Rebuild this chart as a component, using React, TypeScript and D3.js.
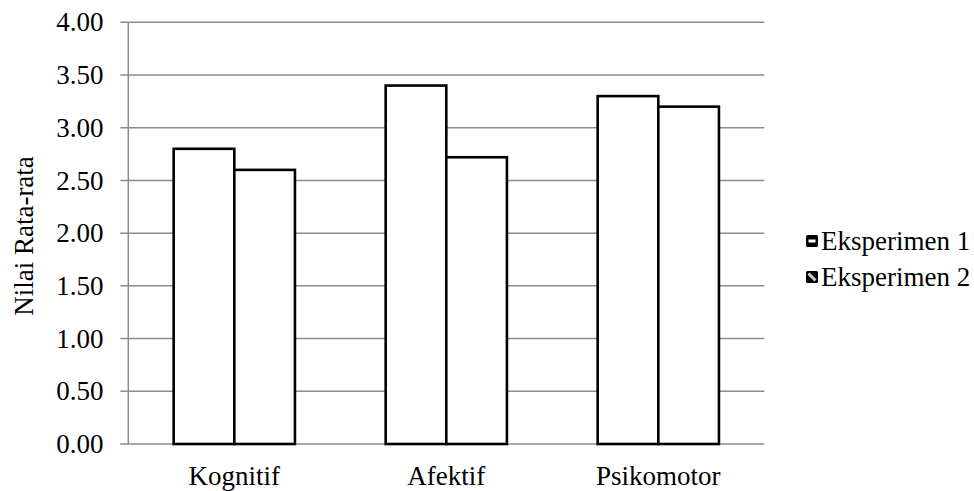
import React from "react";
import * as d3 from "d3";

const categories = ["Kognitif", "Afektif", "Psikomotor"];
const seriesNames = ["Eksperimen 1", "Eksperimen 2"];
const eksperimen1 = [2.8, 3.4, 3.3];
const eksperimen2 = [2.6, 2.72, 3.2];
const yTicks = [0, 0.5, 1, 1.5, 2, 2.5, 3, 3.5, 4];

const W = 974;
const H = 491;
const left = 128.3;
const right = 764.3;
const top = 22.3;
const bottom = 444;
const FS = 27;
const textStyle: React.CSSProperties = { fontFamily: '"Liberation Serif", "Times New Roman", serif', fontSize: FS };

export default function App() {
  const x = d3
    .scaleBand<string>()
    .domain(categories)
    .range([left, right])
    .paddingInner(0.428)
    .paddingOuter(0.214);
  const xs = d3.scaleBand<string>().domain(seriesNames).range([0, x.bandwidth()]).padding(0);
  const y = d3.scaleLinear().domain([0, 4]).range([bottom, top]);
  const data = [eksperimen1, eksperimen2];
  const grid = "#8c8c8c";

  return (
    <svg width={W} height={H} style={{ position: "absolute", left: 0, top: 0, display: "block" }}>
      <rect x={0} y={0} width={W} height={H} fill="#fff" />
      {yTicks.map((t) => (
        <g key={t}>
          <line x1={left - 8} x2={right} y1={y(t)} y2={y(t)} stroke={grid} strokeWidth={1.5} />
          <text x={103.5} y={y(t)} dy="0.34em" textAnchor="end" style={textStyle} fill="#000">
            {t.toFixed(2)}
          </text>
        </g>
      ))}
      <line x1={left} x2={left} y1={top} y2={bottom} stroke={grid} strokeWidth={1.5} />
      {categories.map((c, i) => (
        <g key={c}>
          {data.map((s, j) => (
            <rect
              key={j}
              x={(x(c) as number) + (xs(seriesNames[j]) as number)}
              y={y(s[i])}
              width={xs.bandwidth()}
              height={bottom - y(s[i])}
              fill="#fff"
              stroke="#000"
              strokeWidth={2.6}
            />
          ))}
          <text
            x={(x(c) as number) + x.bandwidth() / 2}
            y={484.5}
            textAnchor="middle"
            style={textStyle}
            fill="#000"
          >
            {c}
          </text>
        </g>
      ))}
      <text transform={`translate(33,236) rotate(-90)`} textAnchor="middle" style={textStyle} fill="#000">
        Nilai Rata-rata
      </text>
      {seriesNames.map((n, j) => {
        const cy = 241 + j * 36;
        return (
          <g key={n}>
            <rect x={806} y={cy - 6} width={12} height={12} fill="#000" rx={1.5} />
            {j === 0 ? (
              <rect x={808.5} y={cy - 1.5} width={7} height={3} fill="#fff" />
            ) : (
              <line x1={808.5} y1={cy - 3.5} x2={815.5} y2={cy + 3.5} stroke="#ccc" strokeWidth={3} />
            )}
            <text x={821} y={cy} dy="0.34em" style={textStyle} fill="#000">
              {n}
            </text>
          </g>
        );
      })}
    </svg>
  );
}
